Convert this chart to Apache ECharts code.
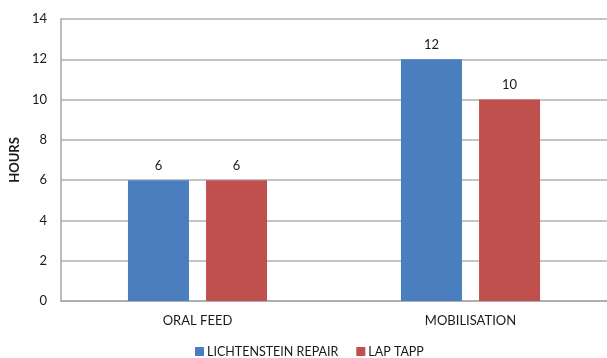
<!DOCTYPE html>
<html>
<head>
<meta charset="utf-8">
<script src="https://cdn.jsdelivr.net/npm/echarts@6/dist/echarts.min.js"></script>
<style>
  html, body { margin: 0; padding: 0; background: #fff; }
  #chart { width: 607px; height: 358px; }
</style>
</head>
<body>
<div id="chart"></div>
<script>
// Hours to oral feed and mobilisation for the two repair techniques
const categories = ['ORAL FEED', 'MOBILISATION'];
const lichtenstein = [6, 12];
const lapTapp = [6, 10];
const seriesNames = ['LICHTENSTEIN REPAIR', 'LAP TAPP'];
const yTicks = { min: 0, max: 14, interval: 2 };

const font = 'Lato, "Open Sans", sans-serif';
const chart = echarts.init(document.getElementById('chart'));

const labelStyle = {
  show: true,
  position: 'top',
  distance: 8,
  color: '#1a1a1a',
  fontSize: 13,
  fontFamily: font
};

chart.setOption({
  animation: false,
  grid: { left: 58, top: 19, width: 550, height: 282 },
  legend: {
    bottom: -5,
    left: 190,
    itemWidth: 9,
    itemHeight: 9,
    itemGap: 18,
    icon: 'rect',
    textStyle: { color: '#1a1a1a', fontSize: 12.5, fontFamily: font, padding: [0, 0, 0, -2] },
    data: seriesNames
  },
  xAxis: {
    type: 'category',
    data: categories,
    axisLine: { lineStyle: { color: '#a6a6a6', width: 1.5 } },
    axisTick: { show: false },
    axisLabel: { color: '#1a1a1a', fontSize: 13, fontFamily: font, margin: 13 }
  },
  yAxis: {
    type: 'value',
    min: yTicks.min,
    max: yTicks.max,
    interval: yTicks.interval,
    name: 'HOURS',
    nameLocation: 'middle',
    nameGap: 40,
    nameTextStyle: { color: '#1a1a1a', fontSize: 13, fontWeight: 'bold', fontFamily: font },
    axisLine: { show: true, lineStyle: { color: '#a6a6a6', width: 1.5 } },
    axisTick: { show: false },
    splitLine: { lineStyle: { color: '#b0b0b0', width: 1.5 } },
    axisLabel: { color: '#1a1a1a', fontSize: 13, fontFamily: font, margin: 14 }
  },
  series: [
    {
      name: seriesNames[0],
      type: 'bar',
      data: lichtenstein,
      barWidth: 61,
      barGap: '28%',
      itemStyle: { color: '#4a7ebf' },
      label: labelStyle
    },
    {
      name: seriesNames[1],
      type: 'bar',
      data: lapTapp,
      barWidth: 61,
      barGap: '28%',
      itemStyle: { color: '#c0504d' },
      label: labelStyle
    }
  ]
});
</script>
</body>
</html>
